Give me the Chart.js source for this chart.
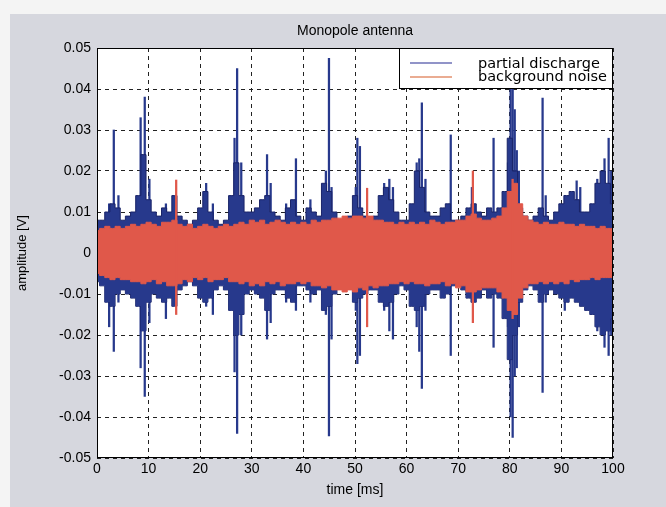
<!DOCTYPE html>
<html>
<head>
<meta charset="utf-8">
<script src="https://cdn.jsdelivr.net/npm/chart.js@4.4.0/dist/chart.umd.min.js"></script>
<style>
  html, body { margin: 0; padding: 0; background: #f4f4f4; }
  #c { display: block; }
</style>
</head>
<body>
<canvas id="c" width="666" height="507"></canvas>
<script>
// sample times (ms) for the envelopes
const timeMs = [0,1,2,3,4,5,6,7,8,9,10,11,12,13,14,15,16,17,18,19,20,21,22,23,24,25,26,27,28,29,
  30,31,32,33,34,35,36,37,38,39,40,41,42,43,44,45,46,47,48,49,50,51,52,53,54,55,56,57,58,59,
  60,61,62,63,64,65,66,67,68,69,70,71,72,73,74,75,76,77,78,79,80,81,82,83,84,85,86,87,88,89,
  90,91,92,93,94,95,96,97,98,99,100];

// partial discharge envelope (V)
const pdHigh = [0.008,0.008,0.010,0.012,0.011,0.008,0.009,0.010,0.014,0.024,
  0.013,0.010,0.009,0.011,0.010,0.014,0.009,0.008,0.007,0.008,
  0.011,0.015,0.010,0.008,0.007,0.008,0.014,0.022,0.014,0.010,
  0.010,0.011,0.013,0.014,0.010,0.009,0.008,0.011,0.013,0.009,
  0.008,0.011,0.010,0.009,0.017,0.015,0.010,0.008,0.008,0.009,
  0.014,0.011,0.009,0.008,0.009,0.014,0.016,0.013,0.010,0.008,
  0.008,0.012,0.020,0.016,0.010,0.009,0.009,0.011,0.012,0.008,
  0.008,0.009,0.011,0.012,0.010,0.009,0.011,0.010,0.011,0.015,
  0.028,0.020,0.011,0.009,0.008,0.009,0.011,0.009,0.008,0.010,
  0.012,0.014,0.015,0.013,0.010,0.010,0.012,0.017,0.020,0.017,0.012];
const pdLow = [-0.007,-0.008,-0.012,-0.013,-0.010,-0.009,-0.010,-0.011,-0.013,-0.019,
  -0.012,-0.010,-0.011,-0.012,-0.011,-0.013,-0.009,-0.008,-0.007,-0.008,
  -0.011,-0.012,-0.011,-0.009,-0.008,-0.009,-0.014,-0.020,-0.015,-0.010,
  -0.009,-0.010,-0.011,-0.014,-0.010,-0.009,-0.009,-0.011,-0.012,-0.008,
  -0.008,-0.009,-0.010,-0.009,-0.014,-0.013,-0.010,-0.008,-0.008,-0.008,
  -0.012,-0.011,-0.010,-0.009,-0.009,-0.012,-0.013,-0.012,-0.010,-0.008,
  -0.009,-0.013,-0.014,-0.013,-0.010,-0.009,-0.009,-0.011,-0.010,-0.008,
  -0.008,-0.009,-0.011,-0.012,-0.011,-0.009,-0.011,-0.010,-0.011,-0.016,
  -0.026,-0.020,-0.012,-0.009,-0.008,-0.009,-0.012,-0.010,-0.009,-0.010,
  -0.011,-0.012,-0.011,-0.012,-0.013,-0.014,-0.015,-0.018,-0.020,-0.019,-0.016];

// partial discharge single pulses
const pdSpikeTime = [2.2,3.1,4.0,8.3,9.1,10.0,13.2,21.0,22.3,26.5,27.0,27.8,32.8,33.5,36.5,38.4,41.2,
  44.2,44.8,45.3,50.0,50.3,50.8,55.5,56.5,57.2,61.8,62.3,62.8,63.5,68.4,72.5,76.7,79.5,80.0,80.4,80.8,
  81.2,81.6,86.2,86.8,90.5,92.8,93.5,96.8,98.2,99.0,99.5];
const pdSpikeHigh = [0.012,0.030,0.014,0.033,0.038,0.018,0.012,0.017,0.012,0.028,0.045,0.022,0.024,0.017,0.012,0.023,0.013,
  0.020,0.0475,0.016,0.016,0.028,0.026,0.017,0.018,0.016,0.022,0.023,0.0366,0.018,0.0288,0.016,0.028,0.022,0.050,0.048,0.035,
  0.025,0.020,0.0378,0.014,0.014,0.0176,0.016,0.018,0.023,0.028,0.020];
const pdSpikeLow = [-0.018,-0.024,-0.012,-0.028,-0.035,-0.017,-0.016,-0.013,-0.015,-0.029,-0.044,-0.020,-0.021,-0.017,-0.012,-0.014,-0.012,
  -0.015,-0.0446,-0.021,-0.014,-0.027,-0.025,-0.014,-0.019,-0.021,-0.018,-0.024,-0.033,-0.014,-0.025,-0.012,-0.023,-0.018,-0.040,-0.045,-0.030,
  -0.028,-0.018,-0.034,-0.012,-0.014,-0.011,-0.012,-0.019,-0.023,-0.025,-0.020];

// background noise envelope (V)
const noiseHigh = [0.0055,0.006,0.0065,0.006,0.0065,0.006,0.0065,0.007,0.0065,0.007,
  0.0075,0.007,0.0065,0.0075,0.0075,0.008,0.007,0.0065,0.007,0.006,
  0.0065,0.007,0.0065,0.006,0.0065,0.007,0.0065,0.007,0.0075,0.007,
  0.008,0.0075,0.008,0.007,0.0075,0.008,0.0075,0.007,0.0075,0.007,
  0.0075,0.007,0.008,0.0075,0.008,0.008,0.0085,0.0085,0.009,0.0085,
  0.009,0.009,0.0085,0.009,0.008,0.008,0.0075,0.0075,0.007,0.0075,
  0.007,0.0075,0.007,0.0075,0.007,0.008,0.0075,0.007,0.0075,0.0075,
  0.008,0.008,0.009,0.0095,0.0085,0.008,0.008,0.0085,0.009,0.011,
  0.015,0.017,0.012,0.009,0.008,0.0075,0.007,0.0075,0.007,0.007,
  0.0075,0.007,0.007,0.0065,0.007,0.0065,0.0065,0.006,0.0065,0.006,0.006];
const noiseLow = [-0.005,-0.0055,-0.006,-0.0065,-0.006,-0.0065,-0.0065,-0.007,-0.007,-0.0075,
  -0.007,-0.0065,-0.0075,-0.007,-0.008,-0.008,-0.0075,-0.0065,-0.007,-0.006,
  -0.0065,-0.006,-0.007,-0.0065,-0.0065,-0.006,-0.007,-0.007,-0.0075,-0.007,
  -0.008,-0.0075,-0.008,-0.007,-0.0075,-0.007,-0.008,-0.0075,-0.0075,-0.007,
  -0.0075,-0.007,-0.008,-0.008,-0.0085,-0.008,-0.009,-0.009,-0.0095,-0.009,
  -0.0095,-0.0085,-0.009,-0.008,-0.0085,-0.008,-0.008,-0.0075,-0.0075,-0.007,
  -0.0075,-0.007,-0.0075,-0.0075,-0.008,-0.0075,-0.0075,-0.007,-0.008,-0.0075,
  -0.0085,-0.008,-0.0095,-0.0095,-0.009,-0.0085,-0.0085,-0.0085,-0.0095,-0.011,
  -0.014,-0.015,-0.011,-0.0085,-0.0075,-0.0075,-0.007,-0.0075,-0.007,-0.0075,
  -0.007,-0.0075,-0.0065,-0.007,-0.0065,-0.0065,-0.006,-0.0065,-0.006,-0.006,-0.006];

// background noise single pulses
const noiseSpikeTime = [15.5,52.5,73.0,80.7];
const noiseSpikeHigh = [0.0178,0.0158,0.020,0.018];
const noiseSpikeLow = [-0.015,-0.018,-0.017,-0.016];

const xTickValues = [0,10,20,30,40,50,60,70,80,90,100];
const yTickValues = [-0.05,-0.04,-0.03,-0.02,-0.01,0,0.01,0.02,0.03,0.04,0.05];

const BLUE = '#27398c';
const BLUE_EDGE = '#1a2468';
const RED = '#e0584a';
const FONT = '"Liberation Sans", Arial, sans-serif';

const pts = (xs, ys) => xs.map((x, i) => ({ x: x, y: ys[i] }));
const bars = (xs, lo, hi) => xs.map((x, i) => ({ x: x, y: [lo[i], hi[i]] }));

const frameAndBackground = {
  id: 'frameAndBackground',
  beforeDraw(chart) {
    const { ctx, chartArea: a } = chart;
    ctx.save();
    ctx.fillStyle = '#f4f4f4';
    ctx.fillRect(0, 0, chart.width, chart.height);
    ctx.fillStyle = '#d6d7de';
    ctx.fillRect(10, 14, chart.width - 10, chart.height - 14);
    ctx.fillStyle = '#ffffff';
    ctx.fillRect(a.left, a.top, a.right - a.left, a.bottom - a.top);
    ctx.restore();
  },
  afterDraw(chart) {
    const { ctx, chartArea: a } = chart;
    ctx.save();
    ctx.strokeStyle = '#000';
    ctx.lineWidth = 1;
    ctx.strokeRect(a.left + 0.5, a.top + 0.5, a.right - a.left - 1, a.bottom - a.top - 1);
    // title
    ctx.fillStyle = '#000';
    ctx.font = '14px ' + FONT;
    ctx.textAlign = 'center';
    ctx.textBaseline = 'middle';
    ctx.fillText('Monopole antenna', (a.left + a.right) / 2, 31);
    // legend box
    const lx = 399, ly = a.top, lw = a.right - 399, lh = 41;
    ctx.fillStyle = '#fff';
    ctx.fillRect(lx, ly, lw, lh);
    ctx.strokeRect(lx + 0.5, ly + 0.5, lw - 1, lh - 1);
    ctx.lineWidth = 1.5;
    ctx.strokeStyle = '#6c70b6';
    ctx.beginPath(); ctx.moveTo(410, ly + 15); ctx.lineTo(452, ly + 15); ctx.stroke();
    ctx.strokeStyle = '#e3906e';
    ctx.beginPath(); ctx.moveTo(410, ly + 29); ctx.lineTo(452, ly + 29); ctx.stroke();
    ctx.fillStyle = '#000';
    ctx.font = '14.5px "DejaVu Sans", sans-serif';
    ctx.textAlign = 'left';
    ctx.fillText('partial discharge', 478, ly + 16);
    ctx.fillText('background noise', 478, ly + 29);
    ctx.restore();
  }
};

const envelope = (label, ys, fill, bg, edge, order) => ({
  label: label, data: pts(timeMs, ys), fill: fill, stepped: 'middle',
  backgroundColor: bg, borderColor: edge, borderWidth: 1, pointRadius: 0, order: order
});

new Chart(document.getElementById('c'), {
  type: 'line',
  data: {
    datasets: [
      { type: 'bar', label: 'noise pulses', data: bars(noiseSpikeTime, noiseSpikeLow, noiseSpikeHigh),
        backgroundColor: RED, barThickness: 1.6, order: 0 },
      envelope('background noise', noiseHigh, '+1', RED, RED, 1),
      envelope('noise low', noiseLow, false, RED, RED, 1),
      envelope('partial discharge', pdHigh, '+1', BLUE, BLUE_EDGE, 2),
      envelope('pd low', pdLow, false, BLUE, BLUE_EDGE, 2),
      { type: 'bar', label: 'pd pulses', data: bars(pdSpikeTime, pdSpikeLow, pdSpikeHigh),
        backgroundColor: BLUE, barThickness: 1.6, order: 3 }
    ]
  },
  options: {
    responsive: false,
    devicePixelRatio: 1,
    animation: false,
    layout: { padding: { top: 48, right: 53, left: 0, bottom: 0 } },
    plugins: { legend: { display: false }, tooltip: { enabled: false } },
    scales: {
      x: {
        type: 'linear', min: 0, max: 100, offset: false,
        afterFit: s => { s.height = 49; },
        afterBuildTicks: s => { s.ticks = xTickValues.map(v => ({ value: v })); },
        ticks: { color: '#000', font: { family: FONT, size: 14 }, padding: 3, maxRotation: 0 },
        grid: { color: '#222', lineWidth: 1, drawTicks: false, offset: false },
        border: { display: false, dash: [4, 4] },
        title: { display: true, text: 'time [ms]', color: '#000', font: { family: FONT, size: 14 }, padding: { top: 0, bottom: 8 } }
      },
      y: {
        min: -0.05, max: 0.05,
        afterFit: s => { s.width = 97; },
        afterBuildTicks: s => { s.ticks = yTickValues.map(v => ({ value: v })); },
        ticks: { color: '#000', font: { family: FONT, size: 14 }, padding: 6,
          callback: v => Math.abs(v) < 1e-9 ? '0' : v.toFixed(2) },
        grid: { color: '#222', lineWidth: 1, drawTicks: false },
        border: { display: false, dash: [4, 4] },
        title: { display: true, text: 'amplitude [V]', color: '#000', font: { family: FONT, size: 13 }, padding: { top: 15, bottom: 0 } }
      }
    }
  },
  plugins: [frameAndBackground]
});
</script>
</body>
</html>
